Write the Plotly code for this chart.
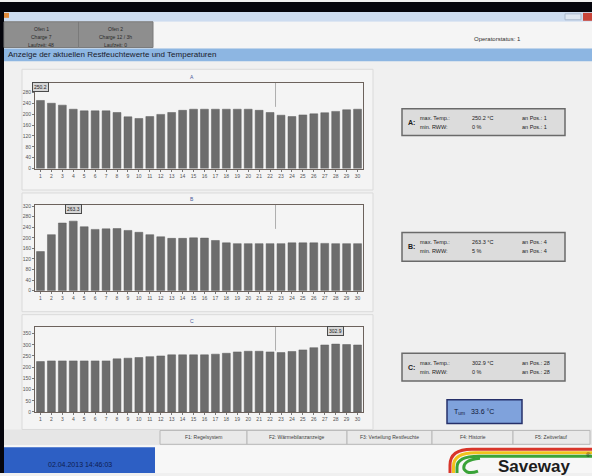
import plotly.graph_objects as go

# ---- data -------------------------------------------------------------
positions = list(range(1, 31))

temp_a = [250.2, 240, 233, 218, 212, 212, 212, 206, 190, 184,
          191, 199, 206, 214, 218, 218, 218, 218, 218, 218,
          214, 206, 196, 191, 197, 201, 205, 210, 216, 218]
temp_b = [148, 212, 256, 263.3, 242, 232, 234, 235, 228, 221,
          212, 204, 198, 198, 200, 199, 190, 181, 178, 178,
          178, 178, 178, 181, 181, 181, 179, 178, 178, 178]
temp_c = [225, 228, 228, 228, 228, 228, 228, 237, 240, 243,
          247, 250, 255, 255, 255, 255, 258, 262, 268, 271,
          271, 268, 265, 270, 277, 287, 299, 302.9, 301, 299]

zone_names = ["A", "B", "C"]
min_rww = [0, 5, 0]
t_um = 33.6
timestamp = "02.04.2013 14:46:03"
header_text = "Anzeige der aktuellen Restfeuchtewerte und Temperaturen"
tab_texts = [["Ofen 1", "Charge 7", "Laufzeit: 48"],
             ["Ofen 2", "Charge 12 / 3h", "Laufzeit: 0"]]
button_texts = ["F1: Regelsystem", "F2: Wärmebilanzanzeige",
                "F3: Verteilung Restfeuchte", "F4: Historie", "F5: Zeitverlauf"]

# ---- geometry helpers (screen pixels -> paper coords) ------------------
W, H = 592, 476
FONT = "Liberation Sans, Arial, sans-serif"


def px(x):
    return x / W


def py(y):
    return 1 - y / H


shapes = []
annotations = []


def rect(x0, y0, x1, y1, fill=None, line=None, lw=1, layer="below"):
    shapes.append(dict(type="rect", xref="paper", yref="paper",
                       x0=px(x0), x1=px(x1), y0=py(y1), y1=py(y0),
                       fillcolor=fill or "rgba(0,0,0,0)",
                       line=dict(color=line or "rgba(0,0,0,0)", width=lw if line else 0),
                       layer=layer))


def text(x, y, s, size=6, color="#303030", xanchor="left", bold=False, family=FONT):
    if bold:
        s = "<b>" + s + "</b>"
    annotations.append(dict(xref="paper", yref="paper", x=px(x), y=py(y), text=s,
                            showarrow=False, xanchor=xanchor, yanchor="middle",
                            font=dict(size=size, color=color, family=family)))


# ---- window chrome -----------------------------------------------------
rect(0, 60, W, 448, fill="#f0f0f0")               # main work area
rect(0, 0, W, 10, fill="#05050c")                 # black top band
rect(0, 10, W, 20, fill="#cddcf0")                # title bar
rect(4, 11, 9, 16, fill="#e08a3a")                # app icon
rect(583, 11, 592, 19, fill="#c8453a")            # close button
rect(565, 12, 581, 18, fill="#dfe7f2", line="#a9b8cc")
rect(0, 10, 4, H, fill="#05050c")                 # left black border

# tab strip
rect(4, 20, W, 47, fill="#f5f5f5")
for i, lines in enumerate(tab_texts):
    x0 = 4 + i * 74.5
    rect(x0, 20, x0 + 74.5, 46, fill="#8e8e8e", line="#7a7a7a")
    for j, s in enumerate(lines):
        text(x0 + 37, 27 + j * 8, s, size=5, color="#2a2a2a", xanchor="center")
text(472, 37, "Operatorstatus: 1", size=6, color="#303030")

# header band
rect(4, 47, W, 60, fill="#8db6e2")
text(6, 53.5, header_text, size=8, color="#1a1a2a")

# bottom button row
rect(4, 432, W, 448, fill="#e6e6e6")
btn_edges = [160, 247, 347, 432, 513, 590]
for i, s in enumerate(button_texts):
    rect(btn_edges[i], 433, btn_edges[i + 1], 447, fill="#e9e9e9", line="#b8b8b8")
    text((btn_edges[i] + btn_edges[i + 1]) / 2, 440, s, size=5, color="#404040", xanchor="center")

# status bar
rect(4, 448, W, H, fill="#f7f7f7")
rect(4, 450, 155, H, fill="#2d5fc4")
text(80, 467, timestamp, size=7, color="#0f1e50", xanchor="center")

# logo
for col, off in [("#d8352a", 0), ("#f1c21c", 3.5), ("#3aa338", 7)]:
    shapes.append(dict(type="path", xref="paper", yref="paper",
                       path=(f"M {px(592)},{py(452 + off)} L {px(472 + off)},{py(452 + off)} "
                             f"Q {px(450 + off)},{py(452 + off)} {px(450 + off)},{py(468 + off * 0.3)} "
                             f"L {px(450 + off)},{py(476)}"),
                       line=dict(color=col, width=3), layer="above"))
shapes.append(dict(type="path", xref="paper", yref="paper",
                   path=(f"M {px(480)},{py(461)} Q {px(462)},{py(463)} {px(464)},{py(472)} "
                         f"Q {px(468)},{py(478)} {px(478)},{py(474)}"),
                   line=dict(color="#3aa338", width=3), layer="above"))
text(496, 469, "Saveway", size=17, color="#1d1d1d", bold=True)
text(584, 458, "®", size=6, color="#1d1d1d")

# ---- bar charts --------------------------------------------------------
series = [temp_a, temp_b, temp_c]
y_max = [315, 325, 380]
y_dtick = [40, 40, 50]
plot_tops = [81.7, 205.0, 328.3]
plot_bottoms = [168.3, 291.7, 414.3]
frames = [(22, 68, 373, 190), (22, 193, 373, 313), (22, 316, 373, 432)]
info_boxes = [(108, 135), (233, 262), (355, 383)]
PLOT_X0, PLOT_X1 = 35, 363

fig = go.Figure()
layout_axes = {}
for k in range(3):
    vals = series[k]
    sfx = "" if k == 0 else str(k + 1)
    fig.add_trace(go.Bar(x=positions, y=vals, xaxis="x" + sfx, yaxis="y" + sfx,
                         marker=dict(color="#6d6d6d", line=dict(color="#5c5c5c", width=0.5)),
                         showlegend=False, hoverinfo="x+y"))
    axis_style = dict(showgrid=False, zeroline=False, showline=True, mirror=True,
                      linecolor="#6c625c", linewidth=1, ticks="outside", ticklen=2,
                      tickcolor="#777777", tickfont=dict(size=5, color="#555555", family=FONT))
    layout_axes["xaxis" + sfx] = dict(axis_style, domain=[px(PLOT_X0), px(PLOT_X1)],
                                      anchor="y" + sfx, range=[0.5, 30.5],
                                      tickmode="array", tickvals=positions,
                                      ticktext=[str(p) for p in positions])
    layout_axes["yaxis" + sfx] = dict(axis_style, domain=[py(plot_bottoms[k]), py(plot_tops[k])],
                                      anchor="x" + sfx, range=[0, y_max[k]], dtick=y_dtick[k])

    # panel frame and zone title
    fx0, fy0, fx1, fy1 = frames[k]
    rect(fx0, fy0, fx1, fy1, fill="#f4f4f4", line="#dadada")
    text(192, plot_tops[k] - 6, zone_names[k], size=5, color="#4a5a9a", xanchor="center")

    # marker line inside the plot
    shapes.append(dict(type="line", xref="x" + sfx, yref="y" + sfx,
                       x0=22.5, x1=22.5, y0=y_max[k] * 0.72, y1=y_max[k],
                       line=dict(color="#9a9a9a", width=0.8), layer="above"))

    # value tag of the hottest position
    vmax = max(vals)
    pos = vals.index(vmax) + 1
    annotations.append(dict(xref="x" + sfx, yref="y" + sfx, x=pos, y=y_max[k] * 0.955,
                            text=f"{vmax:.1f}", showarrow=False, xanchor="center",
                            yanchor="middle", bgcolor="#d6d6d6", bordercolor="#4a4a4a",
                            borderwidth=1, borderpad=1,
                            font=dict(size=5, color="#202020", family=FONT)))

    # info box on the right
    by0, by1 = info_boxes[k]
    rect(402, by0, 565, by1, fill="#dcdcdc", line="#6a6a6a", lw=1.5)
    ym = (by0 + by1) / 2
    text(406, ym, zone_names[k] + ":", size=7, color="#1a1a1a", bold=True)
    text(418, ym - 4.5, "max. Temp.:", size=5.5, color="#202020")
    text(418, ym + 4.5, "min. RWW:", size=5.5, color="#202020")
    text(470, ym - 4.5, f"{vmax:.1f} °C", size=5.5, color="#202020")
    text(470, ym + 4.5, f"{min_rww[k]} %", size=5.5, color="#202020")
    text(520, ym - 4.5, f"an Pos.: {pos}", size=5.5, color="#202020")
    text(520, ym + 4.5, f"an Pos.: {pos}", size=5.5, color="#202020")

# ambient temperature box
rect(447, 402, 522, 426, fill="#7fa2dc", line="#26306a", lw=1.5)
text(452, 414, f"T<sub>um</sub>   {t_um:.1f} °C", size=7, color="#101838")

fig.update_layout(
    width=W, height=H, margin=dict(l=0, r=0, t=0, b=0),
    paper_bgcolor="#f0f0f0", plot_bgcolor="#f9f9f9",
    bargap=0.28, shapes=shapes, annotations=annotations,
    font=dict(family=FONT), **layout_axes,
)

fig.write_html("out.html", config={"displayModeBar": False})
